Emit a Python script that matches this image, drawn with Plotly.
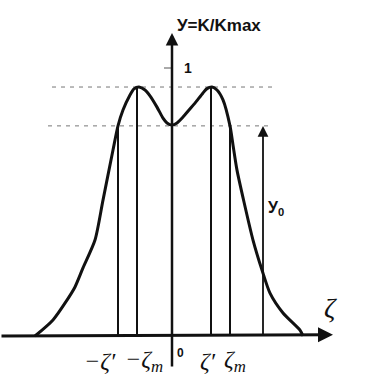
import plotly.graph_objects as go

# Curve y = K/Kmax versus zeta (zeta in arbitrary units)
zeta = [-13.7, -11.9, -10.5, -9.7, -8.9, -7.7, -6.9, -5.9, -5.4, -4.9, -4.2, -3.8, -3.3,
        -2.7, -2.2, -1.5, -0.9, -0.5, 0.0,
        0.5, 1.1, 1.7, 2.3, 3.1, 3.5, 4.0, 4.5, 5.1, 5.8, 6.1, 6.5, 7.2, 8.1, 9.0, 9.8,
        11.1, 12.8, 13.1]
y_val = [0.0, 0.060, 0.134, 0.183, 0.254, 0.358, 0.507, 0.694, 0.784, 0.843, 0.899, 0.922, 0.929,
         0.918, 0.896, 0.854, 0.813, 0.795, 0.787,
         0.795, 0.817, 0.843, 0.869, 0.907, 0.923, 0.929, 0.918, 0.881, 0.784, 0.713, 0.619,
         0.500, 0.358, 0.246, 0.160, 0.086, 0.022, 0.0]

y_peak = 0.929
y_zero = 0.784
# vertical marker lines: (zeta position, top value)
marker_x = [-5.4, -3.5, 3.9, 5.8]
marker_top = [y_zero, y_peak, y_peak, y_zero]
tick_labels = ["−ζ′", "−ζ<sub>m</sub>", "ζ′", "ζ<sub>m</sub>"]
tick_label_x = [-7.2, -2.8, 3.6, 6.3]
y0_x = 9.1

INK = "#111111"
fig = go.Figure()

# dashed reference levels
for lvl, x0, x1 in [(y_peak, -12.0, 10.3), (y_zero, -12.4, 10.0)]:
    fig.add_trace(go.Scatter(x=[x0, x1], y=[lvl, lvl], mode="lines",
                             line=dict(color="#777777", width=1, dash="4px,5px"),
                             hoverinfo="skip", showlegend=False))

# vertical markers
for mx, mt in zip(marker_x, marker_top):
    fig.add_trace(go.Scatter(x=[mx, mx], y=[0, mt], mode="lines",
                             line=dict(color=INK, width=2), hoverinfo="skip", showlegend=False))

# main curve
fig.add_trace(go.Scatter(x=zeta, y=y_val, mode="lines",
                         line=dict(color=INK, width=3, shape="spline", smoothing=0.7),
                         hoverinfo="skip", showlegend=False))

# tick at 1
fig.add_trace(go.Scatter(x=[-0.8, 0], y=[1, 1], mode="lines", line=dict(color="#555555", width=1),
                         hoverinfo="skip", showlegend=False))

ann = []
# axes with arrows
ann.append(dict(x=16.1, y=0.005, ax=-17.2, ay=0, xref="x", yref="y", axref="x", ayref="y",
                showarrow=True, arrowhead=2, arrowsize=1.0, arrowwidth=3, arrowcolor=INK, text=""))
ann.append(dict(x=0, y=1.131, ax=0, ay=-0.119, xref="x", yref="y", axref="x", ayref="y",
                showarrow=True, arrowhead=2, arrowsize=1.0, arrowwidth=2.5, arrowcolor=INK, text=""))
# y0 arrow
ann.append(dict(x=y0_x, y=y_zero, ax=y0_x, ay=0, xref="x", yref="y", axref="x", ayref="y",
                showarrow=True, arrowhead=2, arrowsize=1.2, arrowwidth=1.8, arrowcolor=INK, text=""))

font_sans = "Liberation Sans, Arial, sans-serif"
font_serif = "Liberation Serif, DejaVu Serif, serif"
ann.append(dict(x=0.25, y=1.16, xref="x", yref="y", text="<b>У=K/Kmax</b>", showarrow=False,
                xanchor="left", yanchor="middle", font=dict(family=font_sans, size=17, color=INK)))
ann.append(dict(x=0.95, y=1.0, xref="x", yref="y", text="<b>1</b>", showarrow=False,
                xanchor="left", yanchor="middle", font=dict(family=font_sans, size=14, color=INK)))
ann.append(dict(x=0.8, y=-0.065, xref="x", yref="y", text="<b>0</b>", showarrow=False,
                xanchor="center", yanchor="middle", font=dict(family=font_sans, size=12, color=INK)))
ann.append(dict(x=y0_x + 0.3, y=0.475, xref="x", yref="y", text="<b>У<sub>0</sub></b>", showarrow=False,
                xanchor="left", yanchor="middle", font=dict(family=font_sans, size=16, color=INK)))
for tx, tl in zip(tick_label_x, tick_labels):
    ann.append(dict(x=tx, y=-0.095, xref="x", yref="y", text="<i>" + tl + "</i>", showarrow=False,
                    xanchor="center", yanchor="middle", font=dict(family=font_serif, size=24, color=INK)))
ann.append(dict(x=15.8, y=0.105, xref="x", yref="y", text="<i>ζ</i>", showarrow=False,
                xanchor="center", yanchor="middle", font=dict(family=font_serif, size=28, color=INK)))

fig.update_layout(
    width=380, height=392, margin=dict(l=0, r=0, t=0, b=0),
    paper_bgcolor="white", plot_bgcolor="white",
    xaxis=dict(range=[-17.2, 20.8], visible=False, fixedrange=True),
    yaxis=dict(range=[(336 - 392) / 268, 336 / 268], visible=False, fixedrange=True),
    annotations=ann, showlegend=False,
)
fig.write_html("out.html")
